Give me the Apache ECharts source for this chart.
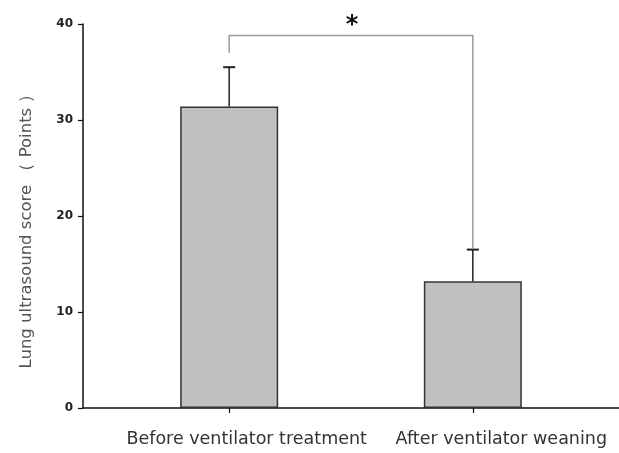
<!DOCTYPE html>
<html><head><meta charset="utf-8">
<script src="https://cdn.jsdelivr.net/npm/echarts@6/dist/echarts.min.js"></script>
<style>html,body{margin:0;padding:0;background:#fff}#c{width:619px;height:453px}</style>
</head><body><div id="c"></div>
<script>
var categories = ['Before ventilator treatment', 'After ventilator weaning'];
var positions = [1, 2];
var means = [31.4, 13.2];
var errors = [4.1, 3.3];
var yTicks = [0, 10, 20, 30, 40];
// bracket: [xStart, xEnd, yTop, leftBottom, rightBottom]
var bracket = [1, 2, 38.8, 37.0, 16.6];
var sigLabel = '*';

var chart = echarts.init(document.getElementById('c'));
var barData = positions.map(function (p, i) { return [p, means[i]]; });
var errData = positions.map(function (p, i) { return [p, means[i], means[i] + errors[i]]; });
var labelFont = { fontFamily: 'DejaVu Sans', fontSize: 17.5, color: '#333' };

chart.setOption({
  animation: false,
  grid: { left: 83, right: 0, top: 24, bottom: 45 },
  xAxis: {
    type: 'value', min: 0.4, max: 2.6,
    splitLine: { show: false },
    axisLine: { show: true, onZero: false, lineStyle: { color: '#111', width: 1.5 } },
    axisTick: { show: true, customValues: positions, length: 5, lineStyle: { color: '#111', width: 1.2 } },
    axisLabel: {
      customValues: positions, margin: 22,
      formatter: function (v) { var i = positions.indexOf(v); return i >= 0 ? '{c' + i + '|' + categories[i] + '}' : ''; },
      fontFamily: 'DejaVu Sans', fontSize: 17.5, color: '#333',
      rich: {
        c0: Object.assign({ padding: [0, 0, 0, 35] }, labelFont),
        c1: Object.assign({ padding: [0, 0, 0, 57] }, labelFont)
      }
    }
  },
  yAxis: {
    type: 'value', min: 0, max: 40, interval: 10,
    name: 'Lung ultrasound score （ Points ）', nameLocation: 'middle', nameGap: 48,
    nameTextStyle: { fontFamily: 'DejaVu Sans', fontSize: 16.5, color: '#555', padding: [0, 22, 0, 0] },
    splitLine: { show: false },
    axisLine: { show: true, lineStyle: { color: '#111', width: 1.5 } },
    axisTick: { show: true, length: 5, lineStyle: { color: '#111', width: 1.2 } },
    axisLabel: { fontFamily: 'DejaVu Sans', fontSize: 12, fontWeight: 'bold', color: '#222', margin: 10,
      customValues: yTicks }
  },
  series: [
    {
      type: 'bar', data: barData, barWidth: 98,
      itemStyle: { color: '#c0c0c0', borderColor: '#333', borderWidth: 1.5 }
    },
    {
      type: 'custom', data: errData, z: 5,
      renderItem: function (params, api) {
        var x = api.value(0);
        var lo = api.coord([x, api.value(1)]);
        var hi = api.coord([x, api.value(2)]);
        var cap = 6;
        return { type: 'group', children: [
          { type: 'line', shape: { x1: lo[0], y1: lo[1], x2: hi[0], y2: hi[1] }, style: { stroke: '#222', lineWidth: 1.5 } },
          { type: 'line', shape: { x1: hi[0] - cap, y1: hi[1], x2: hi[0] + cap, y2: hi[1] }, style: { stroke: '#222', lineWidth: 2 } }
        ] };
      }
    },
    {
      type: 'custom', data: [bracket], z: 6, clip: false,
      renderItem: function (params, api) {
        var x1 = api.value(0), x2 = api.value(1), yt = api.value(2), yl = api.value(3), yr = api.value(4);
        var a = api.coord([x1, yl]), b = api.coord([x1, yt]), c = api.coord([x2, yt]), d = api.coord([x2, yr]);
        var mid = api.coord([(x1 + x2) / 2, yt]);
        return { type: 'group', children: [
          { type: 'polyline', shape: { points: [a, b, c, d] }, style: { stroke: '#9a9a9a', lineWidth: 1.5, fill: null } },
          { type: 'text', x: mid[0] + 1, y: mid[1] + 2, style: { text: sigLabel, fontFamily: 'DejaVu Sans', fontSize: 24, fontWeight: 'bold', fill: '#111', align: 'center', verticalAlign: 'bottom' } }
        ] };
      }
    }
  ]
});
</script></body></html>
